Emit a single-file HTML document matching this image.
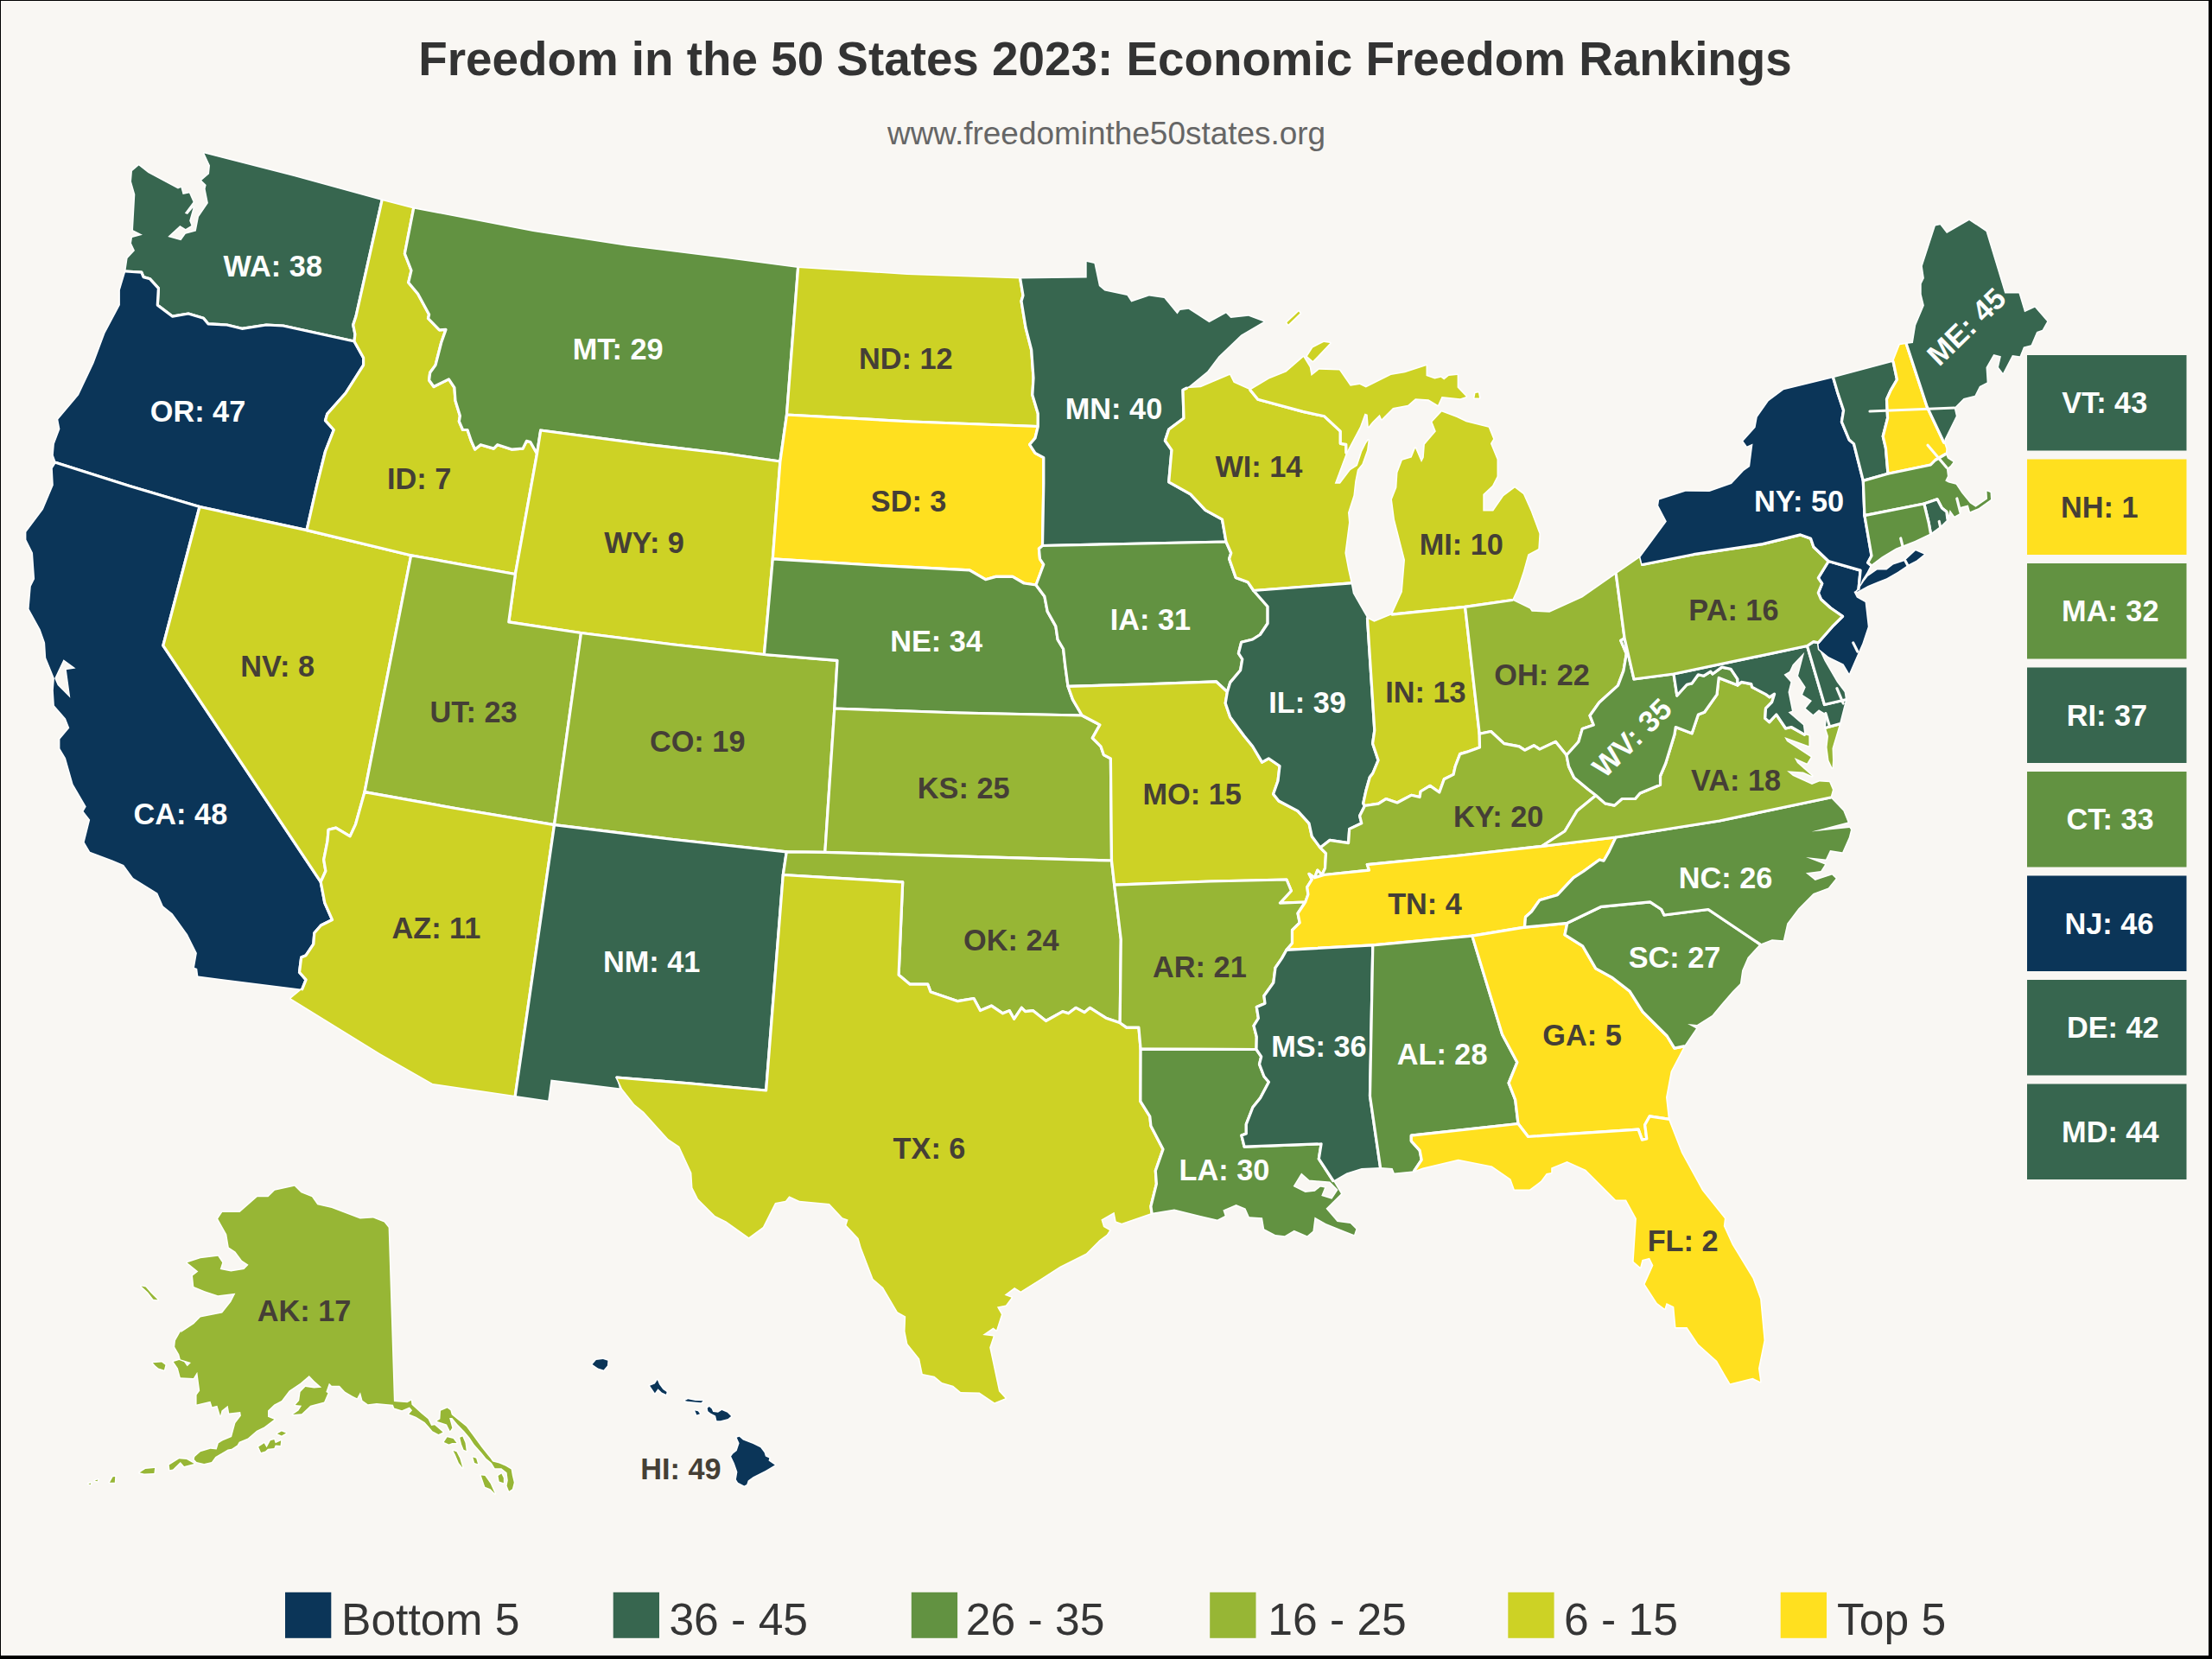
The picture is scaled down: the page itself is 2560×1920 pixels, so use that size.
<!DOCTYPE html>
<html lang="en"><head><meta charset="utf-8"><title>Freedom in the 50 States 2023: Economic Freedom Rankings</title>
<style>
html,body{margin:0;padding:0;background:#000;}
body{width:2560px;height:1920px;overflow:hidden;position:relative;font-family:"Liberation Sans",Arial,Helvetica,sans-serif;}
#frame{position:absolute;left:1px;top:1px;width:2555px;height:1914.5px;background:#f9f7f3;overflow:hidden;}
svg{position:absolute;left:-1px;top:-1px;}
.st{stroke:#fff;stroke-width:3.2;stroke-linejoin:round;}
.lb{font-family:"Liberation Sans",Arial,Helvetica,sans-serif;font-weight:bold;font-size:34.3px;text-anchor:middle;}
.w{fill:#fdfefd;} .k{fill:#453f36;}
.lg{font-family:"Liberation Sans",Arial,Helvetica,sans-serif;font-size:51.6px;fill:#353535;}
</style></head><body><div id="frame">
<svg xmlns="http://www.w3.org/2000/svg" width="2560" height="1920" viewBox="0 0 2560 1920">
<defs><filter id="bl" x="-30%" y="-30%" width="160%" height="160%"><feGaussianBlur stdDeviation="9"/></filter></defs>

<text x="1279" y="87.3" text-anchor="middle" font-weight="bold" font-size="54.8" fill="#333" id="title">Freedom in the 50 States 2023: Economic Freedom Rankings</text>
<text x="1280.6" y="166.5" text-anchor="middle" font-size="36.95" fill="#666" id="sub">www.freedominthe50states.org</text>
<g id="states">
<path class="st" id="WA" paint-order="stroke" fill="#37664f" d="M145.4,314.0 L147.6,298.9 L156.0,290.0 L152.0,281.5 L153.0,275.0 L165.0,271.8 L154.0,266.3 L156.3,225.0 L152.0,210.0 L153.0,198.0 L160.6,191.5 L171.4,200.0 L206.0,218.6 L209.4,216.9 L211.6,225.0 L219.0,223.4 L223.5,233.8 L213.8,246.8 L217.0,248.0 L223.5,240.3 L219.2,255.5 L221.4,261.0 L214.8,265.0 L208.3,261.0 L194.2,274.0 L209.4,278.3 L214.8,270.7 L226.8,267.4 L230.0,251.0 L240.9,234.9 L237.6,218.6 L238.7,214.0 L233.3,208.8 L242.0,201.2 L243.0,191.5 L236.5,177.4 L340.0,204.0 L442.0,232.0 L412.0,366.0 L408.7,376.0 L410.9,386.8 L410.0,395.0 L327.7,377.0 L308.2,376.0 L280.0,380.3 L262.6,376.0 L240.9,374.8 L235.5,368.3 L218.0,363.0 L199.7,366.2 L182.3,353.1 L183.4,333.6 L173.6,322.8 L166.0,320.6 L163.8,315.2Z"/>
<path class="st" id="OR" paint-order="stroke" fill="#0b3558" d="M145.4,314.0 L138.9,335.8 L138.9,353.1 L121.5,385.7 L108.5,420.4 L91.1,457.3 L67.3,485.5 L69.4,496.4 L62.9,513.8 L61.8,526.8 L65.0,535.5 L150.0,562.5 L231.0,586.5 L355.0,613.6 L366.8,561.5 L376.5,522.5 L386.3,497.5 L376.5,486.7 L378.7,479.1 L400.0,455.0 L420.6,422.6 L420.6,414.0 L410.0,395.0 L327.7,377.0 L308.2,376.0 L280.0,380.3 L262.6,376.0 L240.9,374.8 L235.5,368.3 L218.0,363.0 L199.7,366.2 L182.3,353.1 L183.4,333.6 L173.6,322.8 L166.0,320.6 L163.8,315.2Z"/>
<path class="st" id="CA" paint-order="stroke" fill="#0b3558" d="M65.0,535.5 L150.0,562.5 L231.0,586.5 L188.8,747.1 L371.2,1020.7 L375.8,1044.9 L384.5,1064.5 L371.4,1071.0 L363.8,1079.7 L362.8,1092.7 L354.1,1105.7 L348.7,1107.9 L346.5,1125.2 L354.1,1133.9 L349.7,1144.8 L229.3,1129.6 L228.2,1120.9 L225.0,1119.8 L227.9,1102.9 L217.0,1081.2 L199.7,1057.3 L188.8,1048.6 L182.3,1033.4 L154.1,1016.1 L143.2,1000.9 L130.2,995.5 L104.2,985.7 L97.7,974.8 L104.2,948.8 L96.6,939.0 L99.8,933.6 L84.6,907.6 L76.0,877.2 L69.4,866.3 L69.4,855.5 L80.3,842.5 L76.0,831.6 L62.9,816.4 L61.8,799.1 L62.9,785.0 L53.2,761.2 L52.1,743.8 L46.7,728.6 L33.6,704.8 L35.8,678.7 L40.1,670.0 L38.0,639.7 L30.4,624.5 L30.4,615.8 L49.9,589.7 L61.8,561.5 L60.8,542.0Z"/>
<path class="st" id="NV" paint-order="stroke" fill="#cdd225" d="M231.0,586.5 L355.0,613.6 L475.7,642.8 L422.0,916.6 L411.6,953.8 L405.1,967.9 L388.8,958.1 L380.1,960.3 L379.0,973.3 L374.7,995.0 L376.9,1008.0 L371.2,1020.7 L188.8,747.1Z"/>
<path class="st" id="ID" paint-order="stroke" fill="#cdd225" d="M442.0,232.0 L478.6,241.4 L468.4,293.5 L476.0,313.0 L472.7,327.0 L483.6,340.0 L496.6,364.0 L495.5,368.5 L508.5,381.8 L516.0,381.4 L510.7,396.5 L504.0,422.6 L497.7,431.3 L496.6,440.0 L502.0,447.5 L519.4,438.9 L525.9,448.6 L527.0,463.8 L532.4,481.2 L531.3,487.7 L535.6,497.5 L541.0,497.5 L545.4,510.4 L549.7,520.1 L556.3,514.7 L571.4,519.1 L575.8,514.7 L592.0,520.1 L605.1,519.1 L609.4,510.4 L613.8,511.5 L621.5,525.0 L596.4,664.5 L475.7,642.8 L355.0,613.6 L366.8,561.5 L376.5,522.5 L386.3,497.5 L376.5,486.7 L378.7,479.1 L400.0,455.0 L420.6,422.6 L420.6,414.0 L410.0,395.0 L410.9,386.8 L408.7,376.0 L412.0,366.0Z"/>
<path class="st" id="MT" paint-order="stroke" fill="#629241" d="M478.6,241.4 L617.0,267.9 L725.5,284.8 L840.0,299.0 L923.6,310.0 L910.5,480.0 L902.9,534.0 L840.0,525.0 L750.0,514.5 L625.7,498.0 L621.5,525.0 L613.8,511.5 L609.4,510.4 L605.1,519.1 L592.0,520.1 L575.8,514.7 L571.4,519.1 L556.3,514.7 L549.7,520.1 L545.4,510.4 L541.0,497.5 L535.6,497.5 L531.3,487.7 L532.4,481.2 L527.0,463.8 L525.9,448.6 L519.4,438.9 L502.0,447.5 L496.6,440.0 L497.7,431.3 L504.0,422.6 L510.7,396.5 L516.0,381.4 L508.5,381.8 L495.5,368.5 L496.6,364.0 L483.6,340.0 L472.7,327.0 L476.0,313.0 L468.4,293.5Z"/>
<path class="st" id="WY" paint-order="stroke" fill="#cdd225" d="M625.7,498.0 L750.0,514.5 L840.0,525.0 L902.9,534.0 L894.3,646.8 L884.4,757.5 L780.0,746.0 L672.5,732.5 L588.8,719.8 L596.4,664.5 L621.5,525.0Z"/>
<path class="st" id="UT" paint-order="stroke" fill="#97b635" d="M475.7,642.8 L596.4,664.5 L588.8,719.8 L672.5,732.5 L641.5,954.7 L530.0,936.0 L422.0,916.6Z"/>
<path class="st" id="CO" paint-order="stroke" fill="#97b635" d="M672.5,732.5 L780.0,746.0 L884.4,757.5 L969.0,764.3 L965.8,820.0 L954.8,986.3 L910.3,985.8 L775.0,971.0 L641.5,954.7Z"/>
<path class="st" id="AZ" paint-order="stroke" fill="#cdd225" d="M422.0,916.6 L530.0,936.0 L641.5,954.7 L596.3,1268.0 L500.8,1253.9 L440.0,1219.2 L336.7,1155.6 L349.7,1144.8 L354.1,1133.9 L346.5,1125.2 L348.7,1107.9 L354.1,1105.7 L362.8,1092.7 L363.8,1079.7 L371.4,1071.0 L384.5,1064.5 L375.8,1044.9 L371.2,1020.7 L376.9,1008.0 L374.7,995.0 L379.0,973.3 L380.1,960.3 L388.8,958.1 L405.1,967.9 L411.6,953.8Z"/>
<path class="st" id="NM" paint-order="stroke" fill="#37664f" d="M641.5,954.7 L775.0,971.0 L910.3,985.8 L906.3,1012.5 L886.6,1262.0 L800.0,1254.0 L714.0,1247.0 L716.7,1259.3 L637.5,1249.6 L634.2,1273.4 L596.3,1268.0Z"/>
<path class="st" id="ND" paint-order="stroke" fill="#cdd225" d="M923.6,310.0 L1050.0,318.0 L1180.7,322.5 L1184.0,342.0 L1182.0,348.5 L1187.0,379.0 L1193.7,405.0 L1196.0,437.5 L1194.8,457.0 L1201.3,478.7 L1201.3,493.5 L1055.0,488.0 L910.5,480.0Z"/>
<path class="st" id="SD" paint-order="stroke" fill="#ffe01f" d="M910.5,480.0 L1055.0,488.0 L1201.3,493.5 L1198.0,507.0 L1191.6,514.5 L1198.0,524.3 L1207.8,529.7 L1207.8,560.0 L1206.5,631.5 L1202.4,634.9 L1203.5,646.8 L1207.8,653.3 L1199.0,677.0 L1185.1,675.0 L1172.0,667.4 L1152.5,667.4 L1140.6,670.7 L1122.1,659.8 L1010.0,654.0 L894.3,646.8 L902.9,534.0Z"/>
<path class="st" id="NE" paint-order="stroke" fill="#629241" d="M894.3,646.8 L1010.0,654.0 L1122.1,659.8 L1140.6,670.7 L1152.5,667.4 L1172.0,667.4 L1185.1,675.0 L1199.0,677.0 L1208.9,690.2 L1212.2,707.6 L1221.9,724.9 L1224.1,740.1 L1230.6,751.0 L1232.8,770.5 L1236.0,794.3 L1241.5,809.6 L1252.3,828.0 L1110.0,825.0 L965.8,820.0 L969.0,764.3 L884.4,757.5Z"/>
<path class="st" id="KS" paint-order="stroke" fill="#97b635" d="M965.8,820.0 L1110.0,825.0 L1252.3,828.0 L1272.9,838.9 L1264.3,854.1 L1274.0,863.8 L1277.3,873.6 L1285.4,877.9 L1286.5,996.0 L1080.0,990.2 L954.8,986.3Z"/>
<path class="st" id="OK" paint-order="stroke" fill="#97b635" d="M910.3,985.8 L954.8,986.3 L1080.0,990.2 L1286.5,996.0 L1289.7,1024.2 L1297.3,1087.1 L1296.2,1183.7 L1279.9,1178.2 L1261.5,1166.3 L1255.0,1171.7 L1245.2,1166.3 L1236.5,1172.8 L1230.0,1170.7 L1210.5,1181.5 L1195.3,1169.6 L1186.6,1170.7 L1182.3,1166.3 L1173.6,1179.3 L1168.2,1169.6 L1160.6,1172.8 L1147.6,1164.1 L1134.5,1169.6 L1127.0,1155.5 L1108.5,1158.7 L1077.0,1147.9 L1073.8,1139.2 L1053.2,1139.2 L1040.1,1128.3 L1044.7,1020.8 L906.3,1012.5Z"/>
<path class="st" id="TX" paint-order="stroke" fill="#cdd225" d="M906.3,1012.5 L1044.7,1020.8 L1040.1,1128.3 L1053.2,1139.2 L1073.8,1139.2 L1077.0,1147.9 L1108.5,1158.7 L1127.0,1155.5 L1134.5,1169.6 L1147.6,1164.1 L1160.6,1172.8 L1168.2,1169.6 L1173.6,1179.3 L1182.3,1166.3 L1186.6,1170.7 L1195.3,1169.6 L1210.5,1181.5 L1230.0,1170.7 L1236.5,1172.8 L1245.2,1166.3 L1255.0,1171.7 L1261.5,1166.3 L1279.9,1178.2 L1296.2,1183.7 L1303.8,1189.1 L1317.9,1189.1 L1320.1,1214.1 L1319.9,1274.7 L1330.8,1292.1 L1331.9,1302.9 L1346.0,1330.1 L1337.3,1355.0 L1338.4,1370.2 L1331.9,1396.2 L1333.0,1403.8 L1298.2,1415.8 L1291.7,1413.6 L1289.6,1402.8 L1274.4,1411.4 L1277.0,1420.0 L1284.0,1424.0 L1280.9,1428.8 L1272.2,1435.3 L1257.0,1450.5 L1226.6,1465.7 L1204.5,1480.0 L1181.3,1494.5 L1174.1,1490.1 L1162.5,1498.8 L1170.5,1501.7 L1164.0,1510.4 L1153.9,1512.5 L1158.9,1521.2 L1153.1,1539.3 L1149.5,1536.4 L1137.2,1545.1 L1149.5,1546.5 L1145.2,1559.6 L1156.0,1610.2 L1163.3,1618.2 L1151.0,1623.2 L1133.6,1611.6 L1111.9,1610.9 L1103.2,1603.7 L1090.2,1600.1 L1081.5,1592.8 L1067.8,1589.9 L1064.2,1572.6 L1050.4,1555.2 L1047.5,1540.8 L1048.2,1523.4 L1038.8,1518.3 L1022.2,1490.1 L1010.6,1480.0 L996.8,1444.0 L993.6,1433.1 L979.5,1418.0 L981.6,1411.4 L975.1,1409.3 L959.9,1393.0 L925.2,1389.7 L913.3,1384.3 L909.0,1389.7 L897.0,1391.9 L882.9,1420.1 L866.6,1432.1 L840.6,1413.6 L827.6,1407.1 L808.0,1387.6 L801.5,1374.5 L800.4,1357.2 L786.3,1326.8 L773.3,1318.1 L745.1,1286.7 L734.3,1278.0 L720.1,1260.0 L714.0,1247.0 L800.0,1254.0 L886.6,1262.0Z"/>
<path class="st" id="MN" paint-order="stroke" fill="#37664f" d="M1180.7,322.5 L1257.7,321.4 L1257.7,303.0 L1266.4,305.0 L1271.9,331.0 L1278.4,336.6 L1304.4,342.0 L1309.3,349.4 L1329.9,342.5 L1347.3,345.0 L1362.5,363.5 L1365.7,359.0 L1375.5,357.7 L1399.4,373.3 L1418.9,362.5 L1424.3,367.9 L1444.9,365.7 L1462.3,372.2 L1436.3,387.4 L1410.2,412.4 L1397.2,429.7 L1373.3,449.3 L1369.0,451.4 L1370.0,484.0 L1352.7,497.0 L1348.4,510.0 L1356.0,520.9 L1352.7,557.8 L1377.7,571.9 L1395.0,590.3 L1414.5,601.2 L1419.0,627.0 L1300.0,629.5 L1206.5,631.5 L1207.8,560.0 L1207.8,529.7 L1198.0,524.3 L1191.6,514.5 L1198.0,507.0 L1201.3,493.5 L1201.3,478.7 L1194.8,457.0 L1196.0,437.5 L1193.7,405.0 L1187.0,379.0 L1182.0,348.5 L1184.0,342.0Z"/>
<path class="st" id="IA" paint-order="stroke" fill="#629241" d="M1206.5,631.5 L1300.0,629.5 L1419.0,627.0 L1424.8,640.1 L1422.6,646.7 L1430.2,668.4 L1444.3,673.8 L1450.8,683.5 L1467.1,702.0 L1467.1,721.5 L1458.4,734.5 L1449.7,740.0 L1436.7,743.2 L1433.4,756.2 L1437.8,762.8 L1435.6,775.8 L1423.7,789.9 L1420.4,800.7 L1407.4,788.8 L1320.0,792.0 L1236.0,794.3 L1232.8,770.5 L1230.6,751.0 L1224.1,740.1 L1221.9,724.9 L1212.2,707.6 L1208.9,690.2 L1199.0,677.0 L1207.8,653.3 L1203.5,646.8 L1202.4,634.9Z"/>
<path class="st" id="MO" paint-order="stroke" fill="#cdd225" d="M1236.0,794.3 L1320.0,792.0 L1407.4,788.8 L1420.4,800.7 L1418.2,813.8 L1423.7,830.0 L1439.9,851.7 L1449.7,863.7 L1460.6,882.1 L1468.2,877.8 L1481.0,886.5 L1479.0,903.8 L1473.6,919.0 L1480.0,927.0 L1502.0,938.7 L1515.0,952.8 L1518.3,968.0 L1528.0,981.1 L1534.5,987.6 L1533.5,1004.9 L1530.0,1012.5 L1524.8,1007.1 L1521.5,1015.8 L1515.0,1011.4 L1518.3,1017.9 L1512.8,1026.6 L1513.9,1035.3 L1510.7,1044.0 L1481.4,1045.1 L1494.4,1031.0 L1489.0,1018.0 L1400.0,1020.0 L1289.7,1024.2 L1286.5,996.0 L1285.4,877.9 L1277.3,873.6 L1274.0,863.8 L1264.3,854.1 L1272.9,838.9 L1252.3,828.0 L1241.5,809.6Z"/>
<path class="st" id="AR" paint-order="stroke" fill="#97b635" d="M1289.7,1024.2 L1400.0,1020.0 L1489.0,1018.0 L1494.4,1031.0 L1481.4,1045.1 L1510.7,1044.0 L1502.0,1057.0 L1504.2,1067.9 L1495.5,1076.5 L1495.5,1091.7 L1489.0,1099.3 L1483.5,1109.1 L1476.0,1120.0 L1473.8,1137.3 L1462.9,1152.5 L1464.0,1161.2 L1454.3,1165.5 L1456.4,1178.5 L1451.0,1187.2 L1454.3,1200.0 L1454.0,1214.5 L1320.1,1214.1 L1317.9,1189.1 L1303.8,1189.1 L1296.2,1183.7 L1297.3,1087.1Z"/>
<path class="st" id="LA" paint-order="stroke" fill="#629241" d="M1320.1,1214.1 L1454.0,1214.5 L1459.7,1222.9 L1457.5,1231.6 L1462.9,1245.7 L1468.4,1252.2 L1458.6,1270.7 L1449.9,1281.5 L1442.3,1301.1 L1442.3,1311.9 L1436.9,1314.1 L1440.1,1327.1 L1529.1,1323.8 L1526.3,1341.2 L1542.9,1366.5 L1551.9,1381.4 L1534.5,1398.7 L1547.6,1413.9 L1562.8,1416.1 L1569.3,1422.6 L1567.1,1429.1 L1556.2,1424.8 L1534.5,1416.1 L1521.5,1408.5 L1519.4,1424.8 L1512.8,1430.2 L1497.7,1423.7 L1486.8,1430.2 L1476.0,1429.1 L1463.2,1422.3 L1461.0,1409.3 L1445.8,1408.2 L1441.5,1398.4 L1430.6,1394.1 L1415.4,1400.6 L1417.6,1407.1 L1408.9,1411.4 L1389.4,1407.1 L1359.0,1399.5 L1333.0,1403.8 L1331.9,1396.2 L1338.4,1370.2 L1337.3,1355.0 L1346.0,1330.1 L1331.9,1302.9 L1330.8,1292.1 L1319.9,1274.7Z"/>
<path class="st" id="WI" paint-order="stroke" fill="#cdd225" d="M1373.3,449.3 L1389.6,448.2 L1423.2,434.0 L1427.6,442.8 L1447.0,451.4 L1455.8,462.3 L1507.9,476.4 L1532.8,481.8 L1551.3,499.2 L1551.3,513.3 L1557.8,514.4 L1558.0,524.0 L1544.7,559.7 L1551.0,559.7 L1562.7,544.3 L1570.9,538.9 L1576.3,522.6 L1580.8,513.6 L1583.5,509.5 L1582.0,521.0 L1576.3,537.0 L1570.9,543.4 L1568.2,557.0 L1566.4,573.3 L1560.0,593.2 L1561.0,604.7 L1556.4,640.0 L1560.0,658.9 L1563.6,674.9 L1450.8,683.5 L1444.3,673.8 L1430.2,668.4 L1422.6,646.7 L1424.8,640.1 L1419.0,627.0 L1414.5,601.2 L1395.0,590.3 L1377.7,571.9 L1352.7,557.8 L1356.0,520.9 L1348.4,510.0 L1352.7,497.0 L1370.0,484.0 L1369.0,451.4Z"/>
<path class="st" id="IL" paint-order="stroke" fill="#37664f" d="M1563.6,674.9 L1565.8,686.8 L1578.4,708.8 L1582.5,715.7 L1590.8,845.2 L1588.6,860.4 L1595.1,879.9 L1588.8,895.0 L1585.3,899.5 L1581.0,914.7 L1577.7,929.9 L1579.5,932.5 L1573.6,944.2 L1575.8,952.8 L1561.7,959.4 L1560.6,975.6 L1538.9,972.4 L1528.0,981.1 L1518.3,968.0 L1515.0,952.8 L1502.0,938.7 L1480.0,927.0 L1473.6,919.0 L1479.0,903.8 L1481.0,886.5 L1468.2,877.8 L1460.6,882.1 L1449.7,863.7 L1439.9,851.7 L1423.7,830.0 L1418.2,813.8 L1420.4,800.7 L1423.7,789.9 L1435.6,775.8 L1437.8,762.8 L1433.4,756.2 L1436.7,743.2 L1449.7,740.0 L1458.4,734.5 L1467.1,721.5 L1467.1,702.0 L1450.8,683.5Z"/>
<path class="st" id="MI" paint-order="stroke" fill="#cdd225" d="M1611.0,711.2 L1622.9,684.9 L1626.0,648.0 L1614.0,601.0 L1611.0,578.0 L1616.4,564.3 L1617.5,546.9 L1622.9,532.8 L1633.7,529.6 L1638.0,518.7 L1645.0,535.0 L1647.8,529.6 L1648.9,514.4 L1661.9,499.2 L1657.6,488.3 L1668.5,476.4 L1685.8,482.9 L1696.7,488.3 L1722.7,494.8 L1728.1,507.9 L1724.9,513.3 L1732.5,531.7 L1732.5,551.3 L1727.0,562.1 L1716.3,572.1 L1716.3,591.6 L1728.2,591.6 L1740.1,574.3 L1753.1,564.5 L1762.9,572.1 L1771.6,591.6 L1781.4,617.7 L1780.3,635.0 L1768.3,641.5 L1762.9,661.1 L1756.4,680.6 L1750.0,694.5 L1695.6,702.3Z M1447.0,451.4 L1468.7,438.6 L1488.6,430.4 L1508.5,413.2 L1515.7,425.0 L1517.5,434.9 L1526.6,427.7 L1550.1,428.6 L1562.7,446.7 L1573.6,444.9 L1580.8,448.5 L1609.8,434.0 L1626.0,431.3 L1650.5,423.2 L1650.5,434.9 L1660.4,438.6 L1667.6,436.7 L1671.2,439.5 L1676.7,434.9 L1686.6,434.0 L1686.6,448.5 L1696.7,459.0 L1690.0,461.2 L1668.5,459.0 L1664.1,468.8 L1653.3,462.3 L1638.0,461.2 L1629.4,468.8 L1612.0,472.1 L1599.0,485.1 L1596.8,479.7 L1588.2,488.3 L1583.8,493.8 L1582.7,479.7 L1579.5,478.6 L1574.0,493.8 L1558.0,524.0 L1557.8,514.4 L1551.3,513.3 L1551.3,499.2 L1532.8,481.8 L1507.9,476.4 L1455.8,462.3Z M1489.4,373.3 L1503.0,360.5 L1504.5,362.5 L1491.0,375.5Z M1706.5,460.5 L1707.5,455.0 L1711.0,454.5 L1712.0,460.5Z M1513.0,412.3 L1519.3,402.4 L1532.0,396.1 L1539.2,397.0 L1524.8,412.3 L1519.3,417.8Z"/>
<path class="st" id="IN" paint-order="stroke" fill="#cdd225" d="M1582.5,715.7 L1590.4,719.7 L1611.0,711.2 L1695.6,702.3 L1712.2,849.3 L1712.5,865.0 L1697.3,870.4 L1689.7,872.6 L1684.3,886.7 L1682.1,896.4 L1671.3,901.8 L1665.8,917.0 L1655.0,909.4 L1644.1,916.0 L1643.1,922.5 L1633.3,920.3 L1617.0,929.0 L1604.0,924.6 L1595.3,930.1 L1579.5,932.5 L1577.7,929.9 L1581.0,914.7 L1585.3,899.5 L1588.8,895.0 L1595.1,879.9 L1588.6,860.4 L1590.8,845.2Z"/>
<path class="st" id="OH" paint-order="stroke" fill="#97b635" d="M1695.6,702.3 L1750.0,694.5 L1770.5,704.5 L1772.7,707.7 L1793.3,708.8 L1831.3,691.4 L1870.3,664.3 L1880.1,738.6 L1875.8,741.4 L1882.3,756.6 L1879.0,776.1 L1872.5,793.4 L1850.8,813.0 L1840.0,828.2 L1844.3,839.0 L1831.3,843.4 L1826.9,858.5 L1813.0,874.0 L1800.4,858.4 L1781.9,867.1 L1775.4,862.8 L1764.6,868.2 L1758.1,863.9 L1740.7,860.6 L1725.5,846.5 L1712.2,849.3Z"/>
<path class="st" id="KY" paint-order="stroke" fill="#97b635" d="M1528.0,981.1 L1538.9,972.4 L1560.6,975.6 L1561.7,959.4 L1575.8,952.8 L1573.6,944.2 L1579.5,932.5 L1595.3,930.1 L1604.0,924.6 L1617.0,929.0 L1633.3,920.3 L1643.1,922.5 L1644.1,916.0 L1655.0,909.4 L1665.8,917.0 L1671.3,901.8 L1682.1,896.4 L1684.3,886.7 L1689.7,872.6 L1697.3,870.4 L1712.5,865.0 L1712.2,849.3 L1725.5,846.5 L1740.7,860.6 L1758.1,863.9 L1764.6,868.2 L1775.4,862.8 L1781.9,867.1 L1800.4,858.4 L1813.0,874.0 L1815.5,887.0 L1821.7,900.0 L1838.0,913.5 L1847.0,920.5 L1825.1,938.6 L1811.0,962.0 L1784.0,979.5 L1690.0,990.0 L1582.3,1000.6 L1584.5,1007.1 L1532.4,1012.5 L1521.5,1015.8 L1524.8,1007.1 L1530.0,1012.5 L1533.5,1004.9 L1534.5,987.6Z"/>
<path class="st" id="TN" paint-order="stroke" fill="#ffe01f" d="M1521.5,1015.8 L1532.4,1012.5 L1584.5,1007.1 L1582.3,1000.6 L1690.0,990.0 L1784.0,979.5 L1870.0,969.0 L1862.2,985.4 L1856.0,996.2 L1851.1,995.0 L1832.5,1008.5 L1821.0,1015.8 L1802.5,1035.7 L1781.8,1041.8 L1772.5,1055.0 L1765.5,1061.3 L1764.5,1073.2 L1703.8,1083.1 L1588.8,1093.9 L1489.0,1099.3 L1495.5,1091.7 L1495.5,1076.5 L1504.2,1067.9 L1502.0,1057.0 L1510.7,1044.0 L1513.9,1035.3 L1512.8,1026.6 L1518.3,1017.9 L1515.0,1011.4Z"/>
<path class="st" id="MS" paint-order="stroke" fill="#37664f" d="M1489.0,1099.3 L1588.8,1093.9 L1585.5,1268.5 L1597.5,1351.0 L1575.8,1352.0 L1558.4,1357.5 L1542.9,1366.5 L1526.3,1341.2 L1529.1,1323.8 L1440.1,1327.1 L1436.9,1314.1 L1442.3,1311.9 L1442.3,1301.1 L1449.9,1281.5 L1458.6,1270.7 L1468.4,1252.2 L1462.9,1245.7 L1457.5,1231.6 L1459.7,1222.9 L1454.0,1214.5 L1454.3,1200.0 L1451.0,1187.2 L1456.4,1178.5 L1454.3,1165.5 L1464.0,1161.2 L1462.9,1152.5 L1473.8,1137.3 L1476.0,1120.0 L1483.5,1109.1Z"/>
<path class="st" id="AL" paint-order="stroke" fill="#629241" d="M1588.8,1093.9 L1703.8,1083.1 L1738.5,1196.9 L1755.9,1229.4 L1746.1,1253.3 L1753.7,1272.8 L1757.0,1300.5 L1633.3,1314.1 L1633.3,1320.6 L1643.1,1331.4 L1645.2,1342.3 L1636.5,1355.3 L1613.8,1357.5 L1611.6,1352.0 L1597.5,1351.0 L1585.5,1268.5Z"/>
<path class="st" id="GA" paint-order="stroke" fill="#ffe01f" d="M1703.8,1083.1 L1764.5,1073.2 L1813.8,1068.3 L1811.0,1081.8 L1831.6,1094.8 L1846.8,1120.9 L1866.3,1131.7 L1885.9,1146.9 L1901.1,1170.8 L1916.2,1186.0 L1929.3,1199.0 L1937.9,1213.1 L1948.8,1210.9 L1933.6,1240.0 L1928.0,1270.0 L1930.8,1295.2 L1909.1,1291.9 L1903.7,1301.7 L1905.8,1318.0 L1900.4,1319.1 L1896.1,1307.1 L1768.5,1315.5 L1757.0,1300.5 L1753.7,1272.8 L1746.1,1253.3 L1755.9,1229.4 L1738.5,1196.9Z"/>
<path class="st" id="FL" paint-order="stroke" fill="#ffe01f" d="M1757.0,1300.5 L1768.5,1315.5 L1896.1,1307.1 L1900.4,1319.1 L1905.8,1318.0 L1903.7,1301.7 L1909.1,1291.9 L1930.8,1295.2 L1946.0,1334.3 L1969.9,1377.7 L1995.9,1410.2 L1994.8,1418.9 L2004.6,1440.6 L2028.5,1479.7 L2037.1,1503.5 L2041.5,1551.3 L2035.0,1583.8 L2037.1,1599.0 L2028.5,1594.7 L2002.4,1601.2 L1995.9,1590.3 L1987.2,1575.1 L1965.5,1555.6 L1952.5,1536.1 L1939.5,1536.1 L1937.3,1512.2 L1928.6,1507.9 L1926.5,1514.4 L1917.8,1507.9 L1903.7,1486.2 L1913.4,1464.5 L1909.1,1455.8 L1900.4,1458.0 L1898.2,1466.6 L1890.7,1460.1 L1893.9,1410.2 L1882.0,1388.5 L1870.0,1388.5 L1835.3,1353.8 L1813.6,1344.0 L1795.2,1351.6 L1795.2,1357.0 L1789.7,1358.1 L1783.2,1366.8 L1770.2,1376.6 L1752.8,1376.6 L1748.5,1364.6 L1726.8,1349.4 L1687.7,1341.8 L1646.5,1351.6 L1636.5,1355.3 L1645.2,1342.3 L1643.1,1331.4 L1633.3,1320.6 L1633.3,1314.1Z"/>
<path class="st" id="SC" paint-order="stroke" fill="#629241" d="M1813.8,1068.3 L1853.3,1049.3 L1909.7,1043.8 L1922.8,1052.5 L1926.0,1059.0 L1977.0,1052.5 L2036.7,1092.7 L2022.6,1107.9 L2016.1,1123.1 L2013.9,1138.2 L2005.2,1146.9 L1992.2,1162.1 L1981.4,1175.1 L1964.0,1186.0 L1953.1,1184.9 L1962.9,1190.3 L1948.8,1210.9 L1937.9,1213.1 L1929.3,1199.0 L1916.2,1186.0 L1901.1,1170.8 L1885.9,1146.9 L1866.3,1131.7 L1846.8,1120.9 L1831.6,1094.8 L1811.0,1081.8Z"/>
<path class="st" id="NC" paint-order="stroke" fill="#629241" d="M1870.0,969.0 L1990.0,950.0 L2118.4,923.0 L2133.3,938.6 L2138.5,951.5 L2096.4,962.5 L2140.5,958.0 L2142.0,960.3 L2139.8,969.0 L2132.2,986.3 L2118.0,984.0 L2113.0,994.5 L2090.0,992.0 L2112.0,1000.5 L2107.2,1008.0 L2089.9,1010.2 L2100.7,1018.9 L2120.2,1012.4 L2124.6,1016.7 L2115.9,1027.6 L2098.5,1034.1 L2081.2,1051.4 L2068.2,1068.8 L2063.8,1088.3 L2050.8,1087.2 L2036.7,1092.7 L1977.0,1052.5 L1926.0,1059.0 L1922.8,1052.5 L1909.7,1043.8 L1853.3,1049.3 L1813.8,1068.3 L1764.5,1073.2 L1765.5,1061.3 L1772.5,1055.0 L1781.8,1041.8 L1802.5,1035.7 L1821.0,1015.8 L1832.5,1008.5 L1851.1,995.0 L1856.0,996.2 L1862.2,985.4Z"/>
<path class="st" id="VA" paint-order="stroke" fill="#97b635" d="M1847.0,920.5 L1857.7,929.9 L1868.5,932.1 L1877.2,924.5 L1892.4,924.5 L1898.0,918.0 L1921.5,908.2 L1921.5,898.0 L1927.7,883.5 L1937.9,850.2 L1939.3,841.5 L1958.1,848.8 L1965.4,827.0 L1972.6,824.2 L1987.0,803.9 L1989.2,784.4 L2011.0,793.0 L2015.3,789.4 L2026.8,791.6 L2027.6,795.2 L2044.2,803.9 L2047.8,806.8 L2053.6,803.2 L2050.7,812.6 L2043.5,819.8 L2042.8,831.4 L2047.8,835.7 L2055.8,827.0 L2066.6,843.0 L2073.1,841.5 L2088.3,850.2 L2093.4,851.6 L2093.4,863.2 L2065.2,853.1 L2068.0,858.0 L2095.6,876.2 L2091.2,883.5 L2076.7,877.0 L2080.0,883.0 L2097.0,898.0 L2086.9,893.6 L2068.1,892.2 L2075.0,898.0 L2097.0,908.0 L2105.7,904.5 L2117.2,905.2 L2120.9,913.9 L2118.4,923.0 L1990.0,950.0 L1870.0,969.0 L1784.0,979.5 L1811.0,962.0 L1825.1,938.6Z M2112.9,842.2 L2128.8,837.9 L2125.0,851.0 L2120.5,866.0 L2121.0,880.0 L2120.5,888.5 L2116.5,880.0 L2114.5,864.7 L2116.0,852.0Z"/>
<path class="st" id="WV" paint-order="stroke" fill="#629241" d="M1880.1,738.6 L1891.0,786.0 L1937.0,780.0 L1940.8,805.0 L1952.3,792.3 L1958.1,790.9 L1965.4,780.8 L1971.9,782.2 L1979.8,777.1 L1982.0,780.0 L1992.8,772.1 L2003.0,774.2 L2010.9,785.8 L2011.0,793.0 L1989.2,784.4 L1987.0,803.9 L1972.6,824.2 L1965.4,827.0 L1958.1,848.8 L1939.3,841.5 L1937.9,850.2 L1927.7,883.5 L1921.5,898.0 L1921.5,908.2 L1898.0,918.0 L1892.4,924.5 L1877.2,924.5 L1868.5,932.1 L1857.7,929.9 L1847.0,920.5 L1838.0,913.5 L1821.7,900.0 L1815.5,887.0 L1813.0,874.0 L1826.9,858.5 L1831.3,843.4 L1844.3,839.0 L1840.0,828.2 L1850.8,813.0 L1872.5,793.4 L1879.0,776.1 L1882.3,756.6 L1875.8,741.4Z"/>
<path class="st" id="MD" paint-order="stroke" fill="#37664f" d="M1937.0,780.0 L2091.5,747.5 L2111.5,815.5 L2136.0,809.7 L2128.8,837.9 L2112.9,842.2 L2114.4,827.0 L2105.0,821.3 L2098.4,827.0 L2089.8,819.8 L2097.0,811.1 L2086.1,803.9 L2089.8,795.2 L2081.1,782.2 L2088.3,754.7 L2074.6,769.2 L2071.0,777.1 L2064.5,780.8 L2072.4,789.4 L2069.5,801.0 L2073.9,822.7 L2069.5,824.2 L2086.9,839.3 L2088.3,850.2 L2073.1,841.5 L2066.6,843.0 L2055.8,827.0 L2047.8,835.7 L2042.8,831.4 L2043.5,819.8 L2050.7,812.6 L2053.6,803.2 L2047.8,806.8 L2044.2,803.9 L2027.6,795.2 L2026.8,791.6 L2015.3,789.4 L2011.0,793.0 L2010.9,785.8 L2003.0,774.2 L1992.8,772.1 L1982.0,780.0 L1979.8,777.1 L1971.9,782.2 L1965.4,780.8 L1958.1,790.9 L1952.3,792.3 L1940.8,805.0Z"/>
<path class="st" id="DE" paint-order="stroke" fill="#37664f" d="M2091.5,747.5 L2098.9,742.6 L2104.3,743.7 L2105.0,750.4 L2111.5,764.8 L2125.9,789.4 L2134.6,801.0 L2136.0,809.7 L2111.5,815.5Z"/>
<path class="st" id="NJ" paint-order="stroke" fill="#0b3558" d="M2116.2,649.5 L2153.1,660.1 L2151.0,681.8 L2145.5,685.0 L2148.8,691.6 L2158.6,697.0 L2161.8,725.2 L2155.3,744.8 L2147.7,762.1 L2140.1,779.5 L2133.6,768.6 L2116.2,760.0 L2105.4,751.3 L2104.3,743.7 L2120.6,725.2 L2132.5,713.3 L2118.4,703.5 L2107.6,693.8 L2104.3,686.2 L2108.7,675.3 L2104.3,668.8Z"/>
<path class="st" id="PA" paint-order="stroke" fill="#97b635" d="M1870.3,664.3 L1898.5,644.8 L1900.7,653.5 L1960.0,641.7 L2040.0,629.6 L2083.7,618.9 L2095.6,623.2 L2098.9,633.0 L2116.2,649.5 L2104.3,668.8 L2108.7,675.3 L2104.3,686.2 L2107.6,693.8 L2118.4,703.5 L2132.5,713.3 L2120.6,725.2 L2104.3,743.7 L2098.9,742.6 L2091.5,747.5 L1937.0,780.0 L1891.0,786.0 L1880.1,738.6Z"/>
<path class="st" id="NY" paint-order="stroke" fill="#0b3558" d="M1898.5,644.8 L1928.9,603.6 L1919.2,585.1 L1920.2,578.6 L1950.6,568.8 L1978.4,569.0 L2004.0,560.0 L2018.0,545.0 L2025.1,540.0 L2028.5,513.5 L2021.8,516.4 L2017.5,510.5 L2031.6,494.7 L2033.8,482.7 L2046.8,464.3 L2064.2,451.3 L2121.7,437.2 L2127.1,455.6 L2133.6,475.1 L2131.4,488.2 L2140.1,509.0 L2145.5,513.6 L2156.3,556.4 L2157.9,596.6 L2166.0,643.2 L2161.7,651.3 L2165.0,654.0 L2160.7,662.3 L2155.3,671.0 L2151.0,681.8 L2153.1,660.1 L2116.2,649.5 L2098.9,633.0 L2095.6,623.2 L2083.7,618.9 L2040.0,629.6 L1960.0,641.7 L1900.7,653.5 L1898.5,644.8Z M2149.0,685.0 L2157.0,673.0 L2161.7,667.0 L2172.5,659.5 L2183.4,659.5 L2191.0,653.5 L2204.0,649.2 L2217.0,637.2 L2226.8,641.6 L2218.1,648.6 L2209.4,653.0 L2196.4,661.7 L2183.4,669.3 L2172.5,673.6 L2161.7,677.9Z"/>
<path class="st" id="VT" paint-order="stroke" fill="#37664f" d="M2121.7,437.2 L2191.1,418.7 L2195.5,439.3 L2187.9,452.3 L2183.5,462.1 L2184.6,483.8 L2179.2,505.0 L2182.4,518.5 L2185.0,548.3 L2156.3,556.4 L2145.5,513.6 L2140.1,509.0 L2131.4,488.2 L2133.6,475.1 L2127.1,455.6Z"/>
<path class="st" id="NH" paint-order="stroke" fill="#ffe01f" d="M2191.1,418.7 L2198.7,399.2 L2206.3,398.1 L2230.2,470.8 L2249.7,512.0 L2252.3,519.5 L2251.8,525.5 L2239.8,532.5 L2234.4,538.0 L2185.0,548.3 L2182.4,518.5 L2179.2,505.0 L2184.6,483.8 L2183.5,462.1 L2187.9,452.3 L2195.5,439.3Z"/>
<path class="st" id="ME" paint-order="stroke" fill="#37664f" d="M2206.3,398.1 L2213.9,397.0 L2217.2,376.4 L2226.9,353.6 L2223.7,340.6 L2223.7,328.6 L2226.9,322.1 L2224.8,308.0 L2239.9,261.4 L2245.4,260.3 L2253.0,270.0 L2279.0,254.9 L2298.5,267.9 L2320.2,339.5 L2336.5,339.5 L2343.0,361.2 L2355.0,355.8 L2369.1,372.0 L2363.6,381.8 L2357.1,384.0 L2350.6,399.2 L2341.9,401.4 L2337.6,412.2 L2328.9,411.1 L2318.1,431.7 L2313.0,425.0 L2315.9,412.2 L2307.2,410.0 L2298.5,425.2 L2299.6,442.6 L2290.9,446.9 L2285.5,457.8 L2272.5,461.0 L2261.6,471.9 L2263.8,481.6 L2250.8,507.7 L2249.7,512.0 L2230.2,470.8Z"/>
<path class="st" id="MA" paint-order="stroke" fill="#629241" d="M2156.3,556.4 L2185.0,548.3 L2234.4,538.0 L2239.8,532.5 L2251.8,525.5 L2253.9,530.4 L2260.4,534.7 L2257.2,539.0 L2252.8,542.3 L2253.9,551.0 L2251.2,556.4 L2255.0,558.6 L2263.7,560.8 L2270.2,570.5 L2280.0,582.5 L2286.5,586.8 L2300.0,577.5 L2299.5,568.4 L2303.5,570.0 L2304.0,578.0 L2290.0,588.0 L2280.0,592.2 L2277.8,584.6 L2269.1,586.8 L2267.5,594.4 L2262.0,597.6 L2256.6,590.0 L2253.9,600.9 L2252.8,592.2 L2247.4,587.9 L2242.0,577.8 L2226.8,583.0 L2157.9,596.6Z"/>
<path class="st" id="RI" paint-order="stroke" fill="#37664f" d="M2226.8,583.0 L2242.0,577.8 L2247.4,587.9 L2252.8,592.2 L2253.9,600.9 L2246.3,608.5 L2234.4,617.2 L2232.2,605.2Z"/>
<path class="st" id="CT" paint-order="stroke" fill="#629241" d="M2157.9,596.6 L2226.8,583.0 L2232.2,605.2 L2234.4,617.2 L2216.0,625.9 L2194.2,634.5 L2178.0,644.3 L2165.0,654.0 L2161.7,651.3 L2166.0,643.2Z"/>
<path id="AK" fill="#97b635" stroke="#fff" stroke-width="3" stroke-linejoin="round" paint-order="stroke" d="M455.9,1622.0 L449.6,1420.8 L444.6,1414.4 L431.9,1409.4 L416.7,1410.6 L383.8,1398.0 L367.3,1394.2 L361.0,1385.3 L348.4,1380.3 L340.8,1372.7 L318.0,1377.7 L310.4,1385.3 L297.7,1385.3 L277.5,1403.0 L257.2,1403.0 L252.2,1410.6 L262.3,1428.4 L264.8,1443.5 L272.4,1448.6 L280.0,1458.7 L287.6,1463.8 L282.5,1468.9 L267.3,1471.4 L254.7,1468.9 L257.2,1461.3 L252.2,1453.7 L231.9,1456.2 L216.7,1461.3 L229.4,1471.4 L223.0,1476.5 L224.3,1489.1 L237.0,1494.2 L252.2,1499.2 L272.4,1496.7 L267.3,1506.8 L257.2,1519.5 L231.9,1524.6 L224.3,1532.2 L209.1,1542.3 L209.5,1540.0 L203.0,1551.6 L202.2,1558.8 L207.3,1567.5 L208.8,1573.3 L221.0,1576.9 L216.7,1581.2 L213.1,1576.2 L207.3,1574.0 L200.8,1575.9 L205.9,1583.4 L208.8,1594.2 L223.9,1595.0 L228.3,1587.7 L231.2,1609.4 L227.6,1614.5 L227.6,1625.4 L243.5,1621.7 L245.6,1628.2 L251.4,1626.8 L255.0,1638.4 L256.5,1632.6 L263.7,1626.8 L265.2,1635.5 L278.2,1634.0 L278.9,1638.4 L272.4,1647.1 L268.1,1663.0 L257.9,1667.3 L252.9,1670.2 L250.7,1677.4 L243.5,1676.7 L231.9,1680.3 L225.4,1686.1 L224.7,1689.0 L227.6,1691.9 L236.2,1694.1 L244.9,1691.9 L249.3,1686.1 L263.7,1677.4 L268.1,1676.7 L274.6,1672.4 L276.7,1668.8 L286.9,1664.4 L297.0,1655.7 L305.7,1651.4 L317.3,1642.7 L310.0,1639.8 L310.0,1632.6 L317.3,1625.4 L325.9,1621.0 L334.6,1609.4 L347.6,1600.8 L357.8,1592.1 L363.5,1597.9 L372.2,1605.8 L363.5,1606.5 L353.4,1605.1 L347.6,1610.9 L346.2,1621.0 L341.8,1626.1 L349.1,1626.8 L345.5,1632.6 L339.0,1636.9 L349.1,1636.2 L359.2,1626.8 L375.1,1622.5 L379.5,1612.3 L377.3,1610.9 L380.9,1600.8 L383.8,1603.7 L392.9,1603.7 L399.2,1610.6 L408.1,1615.7 L413.2,1618.2 L417.0,1611.3 L419.5,1620.8 L425.8,1625.2 L435.9,1623.9 L454.9,1625.8 L456.2,1629.6 L465.1,1632.2 L473.9,1628.4 L477.1,1632.2 L473.3,1636.6 L481.5,1639.7 L491.6,1646.1 L496.1,1651.1 L500.5,1656.2 L507.5,1660.0 L512.5,1657.5 L503.0,1649.2 L499.2,1649.9 L495.4,1642.3 L487.8,1635.9 L476.5,1625.8 L475.8,1620.8 L471.4,1623.3 L455.6,1622.0Z M510.0,1632.8 L517.6,1629.6 L521.4,1632.2 L522.7,1637.2 L539.7,1651.1 L547.3,1661.3 L557.5,1675.2 L565.1,1684.7 L567.6,1687.8 L570.1,1691.6 L577.7,1693.5 L585.3,1696.7 L591.6,1700.5 L592.9,1708.1 L594.8,1715.7 L592.9,1723.3 L589.1,1725.8 L586.6,1719.5 L587.8,1713.2 L586.6,1704.3 L580.3,1699.2 L572.7,1699.2 L568.9,1692.9 L562.5,1687.8 L557.5,1681.5 L548.6,1671.4 L543.5,1663.8 L537.2,1656.2 L529.6,1648.6 L523.3,1641.0 L520.1,1641.0 L523.3,1652.4 L520.8,1656.2 L517.0,1648.6 L513.2,1647.3 L505.6,1644.8 L509.4,1642.3Z M513.8,1668.9 L517.6,1663.2 L524.6,1665.1 L528.4,1670.1 L523.3,1670.1 L519.5,1671.4Z M532.2,1663.8 L535.3,1662.5 L538.5,1670.1 L539.7,1679.0 L536.6,1677.7 L534.1,1671.4Z M524.6,1679.0 L528.4,1680.3 L532.2,1687.8 L535.3,1698.6 L530.9,1692.9 L527.1,1684.1Z M547.3,1686.6 L551.1,1687.8 L553.0,1694.2 L549.2,1692.9Z M556.8,1707.5 L561.3,1708.1 L567.6,1717.0 L572.7,1728.4 L567.6,1723.3 L561.3,1720.8 L558.7,1713.2Z M576.5,1708.1 L580.3,1705.6 L582.8,1710.6 L582.8,1716.3 L577.7,1714.4Z M176.9,1577.3 L187.1,1576.5 L191.4,1579.8 L189.9,1585.6 L183.4,1583.4 L179.8,1580.5Z M195.7,1695.5 L207.3,1688.3 L216.0,1689.0 L224.7,1694.1 L213.1,1697.0 L208.8,1691.9 L200.1,1700.6 L196.5,1701.3Z M161.7,1704.2 L168.2,1699.9 L179.1,1699.1 L178.4,1704.9 L166.8,1705.6Z M127.0,1715.8 L130.6,1709.3 L133.2,1709.0 L132.8,1715.8Z M109.7,1713.6 L113.3,1712.6 L112.5,1714.3Z M102.4,1717.2 L105.3,1716.5 L104.6,1718.2Z M299.2,1674.5 L305.7,1670.2 L308.6,1675.3 L312.9,1667.3 L317.3,1665.9 L318.7,1670.2 L325.2,1667.3 L324.5,1673.1 L318.7,1672.4 L317.3,1676.0 L310.0,1676.7 L307.1,1679.6 L302.1,1681.0Z M320.9,1659.3 L325.9,1656.5 L331.0,1658.6 L325.9,1661.5Z M163.5,1488.6 L168.6,1489.6 L174.9,1496.7 L182.5,1504.3 L177.5,1503.8 L171.1,1495.4Z"/>
<path class="st" id="HI" paint-order="stroke" fill="#0b3558" d="M685.6,1579.1 L689.9,1574.0 L697.9,1573.0 L703.4,1574.7 L702.9,1580.5 L698.6,1585.6 L692.1,1583.4Z M752.1,1603.7 L757.9,1601.5 L760.8,1597.1 L763.0,1602.2 L767.3,1608.0 L771.6,1610.9 L770.9,1613.8 L765.9,1611.6 L761.5,1607.3 L757.9,1612.3 L755.0,1608.0Z M792.6,1621.0 L796.2,1619.3 L804.9,1621.0 L813.6,1621.3 L811.4,1623.2 L803.5,1622.5 L795.5,1621.7Z M804.2,1632.6 L807.8,1633.3 L810.0,1636.2 L806.4,1637.6Z M818.7,1629.7 L820.8,1628.0 L823.7,1630.4 L825.2,1634.0 L831.0,1634.8 L835.3,1631.9 L841.8,1634.8 L846.1,1639.1 L842.5,1642.0 L833.9,1644.2 L829.5,1644.2 L828.1,1638.4 L822.3,1635.5 L819.4,1633.3Z M852.7,1663.7 L855.6,1662.7 L859.9,1666.6 L871.5,1670.9 L880.1,1675.3 L884.5,1681.0 L885.9,1685.4 L890.3,1687.6 L889.5,1690.5 L896.8,1695.5 L885.9,1702.0 L871.5,1709.3 L865.7,1713.6 L864.2,1717.9 L861.3,1719.4 L854.1,1715.8 L851.9,1712.2 L853.4,1703.5 L849.8,1693.3 L846.1,1685.4 L848.3,1682.5 L852.7,1678.9 L855.6,1670.2Z"/>
</g>
<path id="borders" fill="none" stroke="#fff" stroke-width="3.2" stroke-linejoin="round" stroke-linecap="round" d="M442.0,232.0 L412.0,366.0 L408.7,376.0 L410.9,386.8 L410.0,395.0 M410.0,395.0 L327.7,377.0 L308.2,376.0 L280.0,380.3 L262.6,376.0 L240.9,374.8 L235.5,368.3 L218.0,363.0 L199.7,366.2 L182.3,353.1 L183.4,333.6 L173.6,322.8 L166.0,320.6 L163.8,315.2 L145.4,314.0 M65.0,535.5 L150.0,562.5 L231.0,586.5 M231.0,586.5 L355.0,613.6 M355.0,613.6 L366.8,561.5 L376.5,522.5 L386.3,497.5 L376.5,486.7 L378.7,479.1 L400.0,455.0 L420.6,422.6 L420.6,414.0 L410.0,395.0 M231.0,586.5 L188.8,747.1 L371.2,1020.7 M371.2,1020.7 L375.8,1044.9 L384.5,1064.5 L371.4,1071.0 L363.8,1079.7 L362.8,1092.7 L354.1,1105.7 L348.7,1107.9 L346.5,1125.2 L354.1,1133.9 L349.7,1144.8 M475.7,642.8 L355.0,613.6 M422.0,916.6 L475.7,642.8 M422.0,916.6 L411.6,953.8 L405.1,967.9 L388.8,958.1 L380.1,960.3 L379.0,973.3 L374.7,995.0 L376.9,1008.0 L371.2,1020.7 M478.6,241.4 L468.4,293.5 L476.0,313.0 L472.7,327.0 L483.6,340.0 L496.6,364.0 L495.5,368.5 L508.5,381.8 L516.0,381.4 L510.7,396.5 L504.0,422.6 L497.7,431.3 L496.6,440.0 L502.0,447.5 L519.4,438.9 L525.9,448.6 L527.0,463.8 L532.4,481.2 L531.3,487.7 L535.6,497.5 L541.0,497.5 L545.4,510.4 L549.7,520.1 L556.3,514.7 L571.4,519.1 L575.8,514.7 L592.0,520.1 L605.1,519.1 L609.4,510.4 L613.8,511.5 L621.5,525.0 M621.5,525.0 L596.4,664.5 M596.4,664.5 L475.7,642.8 M923.6,310.0 L910.5,480.0 M910.5,480.0 L902.9,534.0 M902.9,534.0 L840.0,525.0 L750.0,514.5 L625.7,498.0 M625.7,498.0 L621.5,525.0 M902.9,534.0 L894.3,646.8 M894.3,646.8 L884.4,757.5 M884.4,757.5 L780.0,746.0 L672.5,732.5 M672.5,732.5 L588.8,719.8 M588.8,719.8 L596.4,664.5 M641.5,954.7 L672.5,732.5 M641.5,954.7 L530.0,936.0 L422.0,916.6 M969.0,764.3 L884.4,757.5 M965.8,820.0 L969.0,764.3 M954.8,986.3 L965.8,820.0 M954.8,986.3 L910.3,985.8 M910.3,985.8 L775.0,971.0 L641.5,954.7 M641.5,954.7 L596.3,1268.0 M910.3,985.8 L906.3,1012.5 M906.3,1012.5 L886.6,1262.0 M886.6,1262.0 L800.0,1254.0 L714.0,1247.0 M1180.7,322.5 L1184.0,342.0 L1182.0,348.5 L1187.0,379.0 L1193.7,405.0 L1196.0,437.5 L1194.8,457.0 L1201.3,478.7 L1201.3,493.5 M910.5,480.0 L1055.0,488.0 L1201.3,493.5 M1201.3,493.5 L1198.0,507.0 L1191.6,514.5 L1198.0,524.3 L1207.8,529.7 L1207.8,560.0 L1206.5,631.5 M1206.5,631.5 L1202.4,634.9 L1203.5,646.8 L1207.8,653.3 L1199.0,677.0 M894.3,646.8 L1010.0,654.0 L1122.1,659.8 L1140.6,670.7 L1152.5,667.4 L1172.0,667.4 L1185.1,675.0 L1199.0,677.0 M1199.0,677.0 L1208.9,690.2 L1212.2,707.6 L1221.9,724.9 L1224.1,740.1 L1230.6,751.0 L1232.8,770.5 L1236.0,794.3 M1236.0,794.3 L1241.5,809.6 L1252.3,828.0 M965.8,820.0 L1110.0,825.0 L1252.3,828.0 M1252.3,828.0 L1272.9,838.9 L1264.3,854.1 L1274.0,863.8 L1277.3,873.6 L1285.4,877.9 L1286.5,996.0 M954.8,986.3 L1080.0,990.2 L1286.5,996.0 M1286.5,996.0 L1289.7,1024.2 M1289.7,1024.2 L1297.3,1087.1 L1296.2,1183.7 M1044.7,1020.8 L1040.1,1128.3 L1053.2,1139.2 L1073.8,1139.2 L1077.0,1147.9 L1108.5,1158.7 L1127.0,1155.5 L1134.5,1169.6 L1147.6,1164.1 L1160.6,1172.8 L1168.2,1169.6 L1173.6,1179.3 L1182.3,1166.3 L1186.6,1170.7 L1195.3,1169.6 L1210.5,1181.5 L1230.0,1170.7 L1236.5,1172.8 L1245.2,1166.3 L1255.0,1171.7 L1261.5,1166.3 L1279.9,1178.2 L1296.2,1183.7 M906.3,1012.5 L1044.7,1020.8 M1296.2,1183.7 L1303.8,1189.1 L1317.9,1189.1 L1320.1,1214.1 M1320.1,1214.1 L1319.9,1274.7 L1330.8,1292.1 L1331.9,1302.9 L1346.0,1330.1 L1337.3,1355.0 L1338.4,1370.2 L1331.9,1396.2 L1333.0,1403.8 M1373.3,449.3 L1369.0,451.4 L1370.0,484.0 L1352.7,497.0 L1348.4,510.0 L1356.0,520.9 L1352.7,557.8 L1377.7,571.9 L1395.0,590.3 L1414.5,601.2 L1419.0,627.0 M1419.0,627.0 L1300.0,629.5 L1206.5,631.5 M1419.0,627.0 L1424.8,640.1 L1422.6,646.7 L1430.2,668.4 L1444.3,673.8 L1450.8,683.5 M1450.8,683.5 L1467.1,702.0 L1467.1,721.5 L1458.4,734.5 L1449.7,740.0 L1436.7,743.2 L1433.4,756.2 L1437.8,762.8 L1435.6,775.8 L1423.7,789.9 L1420.4,800.7 M1236.0,794.3 L1320.0,792.0 L1407.4,788.8 L1420.4,800.7 M1420.4,800.7 L1418.2,813.8 L1423.7,830.0 L1439.9,851.7 L1449.7,863.7 L1460.6,882.1 L1468.2,877.8 L1481.0,886.5 L1479.0,903.8 L1473.6,919.0 L1480.0,927.0 L1502.0,938.7 L1515.0,952.8 L1518.3,968.0 L1528.0,981.1 M1528.0,981.1 L1534.5,987.6 L1533.5,1004.9 L1530.0,1012.5 L1524.8,1007.1 L1521.5,1015.8 M1521.5,1015.8 L1515.0,1011.4 L1518.3,1017.9 L1512.8,1026.6 L1513.9,1035.3 L1510.7,1044.0 M1289.7,1024.2 L1400.0,1020.0 L1489.0,1018.0 L1494.4,1031.0 L1481.4,1045.1 L1510.7,1044.0 M1510.7,1044.0 L1502.0,1057.0 L1504.2,1067.9 L1495.5,1076.5 L1495.5,1091.7 L1489.0,1099.3 M1489.0,1099.3 L1483.5,1109.1 L1476.0,1120.0 L1473.8,1137.3 L1462.9,1152.5 L1464.0,1161.2 L1454.3,1165.5 L1456.4,1178.5 L1451.0,1187.2 L1454.3,1200.0 L1454.0,1214.5 M1320.1,1214.1 L1454.0,1214.5 M1454.0,1214.5 L1459.7,1222.9 L1457.5,1231.6 L1462.9,1245.7 L1468.4,1252.2 L1458.6,1270.7 L1449.9,1281.5 L1442.3,1301.1 L1442.3,1311.9 L1436.9,1314.1 L1440.1,1327.1 M1440.1,1327.1 L1529.1,1323.8 M1529.1,1323.8 L1526.3,1341.2 L1542.9,1366.5 M1447.0,451.4 L1455.8,462.3 L1507.9,476.4 L1532.8,481.8 L1551.3,499.2 L1551.3,513.3 L1557.8,514.4 L1558.0,524.0 M1563.6,674.9 L1450.8,683.5 M1582.5,715.7 L1590.8,845.2 L1588.6,860.4 L1595.1,879.9 L1588.8,895.0 L1585.3,899.5 L1581.0,914.7 L1577.7,929.9 L1579.5,932.5 M1579.5,932.5 L1573.6,944.2 L1575.8,952.8 L1561.7,959.4 L1560.6,975.6 L1538.9,972.4 L1528.0,981.1 M1695.6,702.3 L1750.0,694.5 M1611.0,711.2 L1695.6,702.3 M1695.6,702.3 L1712.2,849.3 M1579.5,932.5 L1595.3,930.1 L1604.0,924.6 L1617.0,929.0 L1633.3,920.3 L1643.1,922.5 L1644.1,916.0 L1655.0,909.4 L1665.8,917.0 L1671.3,901.8 L1682.1,896.4 L1684.3,886.7 L1689.7,872.6 L1697.3,870.4 L1712.5,865.0 L1712.2,849.3 M1870.3,664.3 L1880.1,738.6 M1880.1,738.6 L1875.8,741.4 L1882.3,756.6 L1879.0,776.1 L1872.5,793.4 L1850.8,813.0 L1840.0,828.2 L1844.3,839.0 L1831.3,843.4 L1826.9,858.5 L1813.0,874.0 M1712.2,849.3 L1725.5,846.5 L1740.7,860.6 L1758.1,863.9 L1764.6,868.2 L1775.4,862.8 L1781.9,867.1 L1800.4,858.4 L1813.0,874.0 M1813.0,874.0 L1815.5,887.0 L1821.7,900.0 L1838.0,913.5 L1847.0,920.5 M1847.0,920.5 L1825.1,938.6 L1811.0,962.0 L1784.0,979.5 M1521.5,1015.8 L1532.4,1012.5 L1584.5,1007.1 L1582.3,1000.6 L1690.0,990.0 L1784.0,979.5 M1784.0,979.5 L1870.0,969.0 M1764.5,1073.2 L1765.5,1061.3 L1772.5,1055.0 L1781.8,1041.8 L1802.5,1035.7 L1821.0,1015.8 L1832.5,1008.5 L1851.1,995.0 L1856.0,996.2 L1862.2,985.4 L1870.0,969.0 M1703.8,1083.1 L1764.5,1073.2 M1588.8,1093.9 L1703.8,1083.1 M1489.0,1099.3 L1588.8,1093.9 M1588.8,1093.9 L1585.5,1268.5 L1597.5,1351.0 M1703.8,1083.1 L1738.5,1196.9 L1755.9,1229.4 L1746.1,1253.3 L1753.7,1272.8 L1757.0,1300.5 M1757.0,1300.5 L1633.3,1314.1 L1633.3,1320.6 L1643.1,1331.4 L1645.2,1342.3 L1636.5,1355.3 M1764.5,1073.2 L1813.8,1068.3 M1813.8,1068.3 L1811.0,1081.8 L1831.6,1094.8 L1846.8,1120.9 L1866.3,1131.7 L1885.9,1146.9 L1901.1,1170.8 L1916.2,1186.0 L1929.3,1199.0 L1937.9,1213.1 L1948.8,1210.9 M1757.0,1300.5 L1768.5,1315.5 L1896.1,1307.1 L1900.4,1319.1 L1905.8,1318.0 L1903.7,1301.7 L1909.1,1291.9 L1930.8,1295.2 M2036.7,1092.7 L1977.0,1052.5 L1926.0,1059.0 L1922.8,1052.5 L1909.7,1043.8 L1853.3,1049.3 L1813.8,1068.3 M1870.0,969.0 L1990.0,950.0 L2118.4,923.0 M1847.0,920.5 L1857.7,929.9 L1868.5,932.1 L1877.2,924.5 L1892.4,924.5 L1898.0,918.0 L1921.5,908.2 L1921.5,898.0 L1927.7,883.5 L1937.9,850.2 L1939.3,841.5 L1958.1,848.8 L1965.4,827.0 L1972.6,824.2 L1987.0,803.9 L1989.2,784.4 L2011.0,793.0 M2011.0,793.0 L2015.3,789.4 L2026.8,791.6 L2027.6,795.2 L2044.2,803.9 L2047.8,806.8 L2053.6,803.2 L2050.7,812.6 L2043.5,819.8 L2042.8,831.4 L2047.8,835.7 L2055.8,827.0 L2066.6,843.0 L2073.1,841.5 L2088.3,850.2 M2128.8,837.9 L2112.9,842.2 M1891.0,786.0 L1880.1,738.6 M1937.0,780.0 L1891.0,786.0 M1937.0,780.0 L1940.8,805.0 M1940.8,805.0 L1952.3,792.3 L1958.1,790.9 L1965.4,780.8 L1971.9,782.2 L1979.8,777.1 L1982.0,780.0 L1992.8,772.1 L2003.0,774.2 L2010.9,785.8 L2011.0,793.0 M2091.5,747.5 L1937.0,780.0 M2111.5,815.5 L2091.5,747.5 M2136.0,809.7 L2111.5,815.5 M2104.3,743.7 L2098.9,742.6 L2091.5,747.5 M2116.2,649.5 L2153.1,660.1 L2151.0,681.8 M2116.2,649.5 L2104.3,668.8 L2108.7,675.3 L2104.3,686.2 L2107.6,693.8 L2118.4,703.5 L2132.5,713.3 L2120.6,725.2 L2104.3,743.7 M1900.7,653.5 L1960.0,641.7 L2040.0,629.6 L2083.7,618.9 L2095.6,623.2 L2098.9,633.0 L2116.2,649.5 M2121.7,437.2 L2127.1,455.6 L2133.6,475.1 L2131.4,488.2 L2140.1,509.0 L2145.5,513.6 L2156.3,556.4 M2156.3,556.4 L2157.9,596.6 M2157.9,596.6 L2166.0,643.2 L2161.7,651.3 L2165.0,654.0 M2191.1,418.7 L2195.5,439.3 L2187.9,452.3 L2183.5,462.1 L2184.6,483.8 L2179.2,505.0 L2182.4,518.5 L2185.0,548.3 M2185.0,548.3 L2156.3,556.4 M2206.3,398.1 L2230.2,470.8 L2249.7,512.0 M2251.8,525.5 L2239.8,532.5 L2234.4,538.0 L2185.0,548.3 M2242.0,577.8 L2247.4,587.9 L2252.8,592.2 L2253.9,600.9 M2226.8,583.0 L2242.0,577.8 M2157.9,596.6 L2226.8,583.0 M2234.4,617.2 L2232.2,605.2 L2226.8,583.0"/>
<path fill="#f9f7f3" stroke="#fff" stroke-width="1.5" d="M64.0,785.0 L73.8,764.3 L85.7,773.0 L76.0,774.5 L80.3,805.6 L67.3,792.6Z M1506.3,1358.6 L1497.7,1372.7 L1510.7,1379.2 L1521.5,1378.1 L1528.0,1372.7 L1534.0,1374.0 L1530.2,1383.5 L1541.1,1386.8 L1547.6,1377.0 L1538.9,1368.3 L1515.0,1366.2Z"/>

<g stroke="#fdfdfa" stroke-width="3.2" stroke-linecap="round"><line x1="2164" y1="476" x2="2262" y2="472"/><line x1="2231" y1="515.2" x2="2252.8" y2="541"/><line x1="2264.8" y1="577" x2="2268.6" y2="592"/><line x1="2244.2" y1="603.5" x2="2245.8" y2="610.5"/><line x1="2199.7" y1="623" x2="2201.8" y2="631.3"/><line x1="2205" y1="649" x2="2207.7" y2="654"/><line x1="2125.9" y1="796.7" x2="2133.2" y2="814"/><line x1="2112.9" y1="825.6" x2="2117.3" y2="840.1"/><line x1="2144.7" y1="743.9" x2="2149.8" y2="754"/></g>
<g id="labels">
<text class="lb w" x="315.8" y="320.2">WA: 38</text>
<text class="lb w" x="229" y="487.7">OR: 47</text>
<text class="lb w" x="208.9" y="954.2">CA: 48</text>
<text class="lb k" x="485.2" y="566.4">ID: 7</text>
<text class="lb k" x="321.2" y="782.9">NV: 8</text>
<text class="lb w" x="715.2" y="416.1">MT: 29</text>
<text class="lb k" x="745.6" y="639.5">WY: 9</text>
<text class="lb k" x="548.1" y="835.9">UT: 23</text>
<text class="lb k" x="807.2" y="869.7">CO: 19</text>
<text class="lb k" x="504.9" y="1086.2">AZ: 11</text>
<text class="lb w" x="754.1" y="1125.4">NM: 41</text>
<text class="lb k" x="1048.3" y="426.6">ND: 12</text>
<text class="lb k" x="1051.6" y="591.5">SD: 3</text>
<text class="lb w" x="1083.6" y="754.2">NE: 34</text>
<text class="lb k" x="1115.2" y="923.7">KS: 25</text>
<text class="lb k" x="1170.3" y="1099.7">OK: 24</text>
<text class="lb k" x="1075.5" y="1340.9">TX: 6</text>
<text class="lb w" x="1289" y="485.2">MN: 40</text>
<text class="lb w" x="1331.4" y="729.1">IA: 31</text>
<text class="lb k" x="1379.7" y="930.9">MO: 15</text>
<text class="lb k" x="1388.4" y="1130.9">AR: 21</text>
<text class="lb w" x="1417" y="1366.3">LA: 30</text>
<text class="lb k" x="1456.9" y="552.4">WI: 14</text>
<text class="lb w" x="1513.1" y="824.6">IL: 39</text>
<text class="lb k" x="1691.3" y="641.5">MI: 10</text>
<text class="lb k" x="1650" y="813">IN: 13</text>
<text class="lb k" x="1784.6" y="793.4">OH: 22</text>
<text class="lb k" x="1734.2" y="957.2">KY: 20</text>
<text class="lb k" x="1649" y="1057.7">TN: 4</text>
<text class="lb w" x="1526.4" y="1223.4">MS: 36</text>
<text class="lb w" x="1669.1" y="1231.6">AL: 28</text>
<text class="lb k" x="1831" y="1209.9">GA: 5</text>
<text class="lb k" x="1947.6" y="1447.5">FL: 2</text>
<text class="lb w" x="1938" y="1119.8">SC: 27</text>
<text class="lb w" x="1997.1" y="1027.6">NC: 26</text>
<text class="lb k" x="2009" y="914.7">VA: 18</text>
<text class="lb k" x="2006.4" y="718.2">PA: 16</text>
<text class="lb w" x="2082" y="591.8">NY: 50</text>
<text class="lb k" x="352.1" y="1529.1">AK: 17</text>
<text class="lb k" x="787.9" y="1712.2">HI: 49</text>
<text class="lb w" transform="translate(2283.9,386.5) rotate(-44)" x="0" y="0">ME: 45</text>
<text class="lb w" transform="translate(1897.1,862.4) rotate(-44.5)" x="0" y="0">WV: 35</text>
</g>
<rect x="2346" y="411.0" width="184.5" height="110.5" fill="#37664f"/>
<text class="lb w" x="2435.7" y="478.3">VT: 43</text>
<rect x="2346" y="531.5" width="184.5" height="110.5" fill="#ffe01f"/>
<text class="lb k" x="2429.8" y="598.8">NH: 1</text>
<rect x="2346" y="652.0" width="184.5" height="110.5" fill="#629241"/>
<text class="lb w" x="2442.3" y="719.3">MA: 32</text>
<rect x="2346" y="772.5" width="184.5" height="110.5" fill="#37664f"/>
<text class="lb w" x="2438.4" y="839.8">RI: 37</text>
<rect x="2346" y="893.0" width="184.5" height="110.5" fill="#629241"/>
<text class="lb w" x="2442.1" y="960.3">CT: 33</text>
<rect x="2346" y="1013.5" width="184.5" height="110.5" fill="#0b3558"/>
<text class="lb w" x="2441" y="1080.8">NJ: 46</text>
<rect x="2346" y="1134.0" width="184.5" height="110.5" fill="#37664f"/>
<text class="lb w" x="2445.3" y="1201.3">DE: 42</text>
<rect x="2346" y="1254.5" width="184.5" height="110.5" fill="#37664f"/>
<text class="lb w" x="2442.3" y="1321.8">MD: 44</text>
<rect x="330" y="1842.8" width="53.3" height="53" fill="#0b3558"/>
<text class="lg" x="395.0" y="1892">Bottom 5</text>
<rect x="709.7" y="1842.8" width="53.3" height="53" fill="#37664f"/>
<text class="lg" x="774.4" y="1892">36 - 45</text>
<rect x="1054.8" y="1842.8" width="53.3" height="53" fill="#629241"/>
<text class="lg" x="1117.8" y="1892">26 - 35</text>
<rect x="1400.2" y="1842.8" width="53.3" height="53" fill="#97b635"/>
<text class="lg" x="1467.2" y="1892">16 - 25</text>
<rect x="1745.3" y="1842.8" width="53.3" height="53" fill="#cdd225"/>
<text class="lg" x="1810" y="1892">6 - 15</text>
<rect x="2060.7" y="1842.8" width="53.3" height="53" fill="#ffe01f"/>
<text class="lg" x="2126" y="1892">Top 5</text>
</svg></div></body></html>
